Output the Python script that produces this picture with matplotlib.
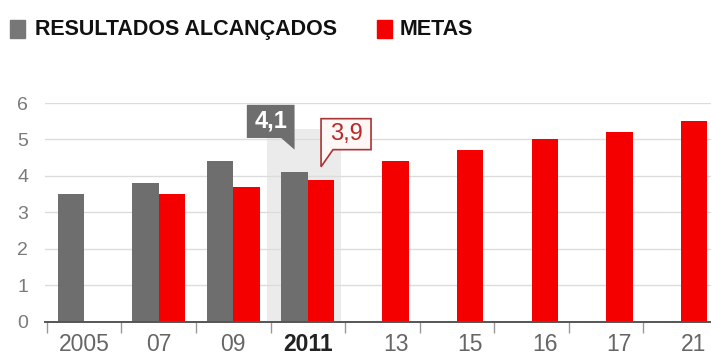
import matplotlib.pyplot as plt
from matplotlib.patches import Polygon, Rectangle

# IDEB series: results achieved vs targets
anos = ['2005', '07', '09', '2011', '13', '15', '16', '17', '21']
resultados = [3.5, 3.8, 4.4, 4.1, None, None, None, None, None]
metas = [None, 3.5, 3.7, 3.9, 4.4, 4.7, 5.0, 5.2, 5.5]
destaque = 3  # 2011

CINZA = '#6e6e6e'
VERMELHO = '#f40000'
W = 0.355

plt.rcParams['font.family'] = ['Liberation Sans', 'DejaVu Sans']

fig = plt.figure(figsize=(7.11, 3.56), dpi=100)
ax = fig.add_axes([45 / 711, 34.3 / 356, 666 / 711, 218.7 / 356])

ax.axvspan(destaque - 0.55, destaque + 0.45, ymin=0, ymax=5.3 / 6,
           color='#ebebeb', zorder=0, lw=0)

for i, (r, m) in enumerate(zip(resultados, metas)):
    if r is not None:
        ax.bar(i - W / 2, r, width=W, color=CINZA, zorder=2)
    if m is not None:
        ax.bar(i + W / 2, m, width=W, color=VERMELHO, zorder=2)

ax.set_xlim(-0.523, 8.405)
ax.set_ylim(0, 6)
ax.set_yticks(range(7))
ax.yaxis.grid(True, color='#dcdcdc', lw=1, zorder=0.5)
ax.set_axisbelow(True)
for s in ['left', 'right', 'top']:
    ax.spines[s].set_visible(False)
ax.spines['bottom'].set_color('#555555')
ax.spines['bottom'].set_linewidth(1.4)
ax.tick_params(axis='y', length=0, pad=12, labelsize=14, labelcolor='#7a7a7a')

# labels sit under the group center, or under the lone target bar
pos = [i if resultados[i] is not None else i + W / 2 for i in range(len(anos))]
ax.set_xticks(pos)
ax.set_xticklabels(anos, fontsize=16.5, color='#666666')
ax.tick_params(axis='x', length=0, pad=8)
ax.get_xticklabels()[destaque].set_fontweight('bold')
ax.get_xticklabels()[destaque].set_color('#222222')
ax.set_xticks([i - 0.5 for i in range(len(anos))], minor=True)
ax.tick_params(axis='x', which='minor', length=8, color='#999999', width=1)

# callouts for the highlighted year
r, m = resultados[destaque], metas[destaque]
xg = destaque - W / 2
tip = r + 0.62
caixa_g = [(xg - 0.64, tip + 0.32), (xg - 0.18, tip + 0.32), (xg, tip),
           (xg, tip + 1.23), (xg - 0.64, tip + 1.23)]
ax.add_patch(Polygon(caixa_g, closed=True, facecolor=CINZA, edgecolor='none',
                     zorder=4, clip_on=False))
ax.text(xg - 0.32, tip + 0.78, f'{r:.1f}'.replace('.', ','), ha='center',
        va='center', color='white', fontsize=17, fontweight='bold', zorder=5)

xr = destaque + W / 2
tip = m + 0.35
caixa_r = [(xr, tip), (xr + 0.16, tip + 0.47), (xr + 0.67, tip + 0.47),
           (xr + 0.67, tip + 1.32), (xr, tip + 1.32)]
ax.add_patch(Polygon(caixa_r, closed=True, facecolor='#fff6f6', edgecolor='#a83434',
                     lw=1.2, zorder=4, clip_on=False))
ax.text(xr + 0.335, tip + 0.9, f'{m:.1f}'.replace('.', ','), ha='center',
        va='center', color='#b52a2a', fontsize=17, fontweight='medium', zorder=5)

# legend across the top
yl = 1 - 29.5 / 356
fig.patches.append(Rectangle((10 / 711, 1 - 38 / 356), 15 / 711, 18 / 356,
                             transform=fig.transFigure, color='#777777'))
fig.text(35 / 711, yl, 'RESULTADOS ALCANÇADOS', fontsize=15.5, fontweight='bold',
         color='#111111', va='center', ha='left')
fig.patches.append(Rectangle((377 / 711, 1 - 38 / 356), 15 / 711, 18 / 356,
                             transform=fig.transFigure, color=VERMELHO))
fig.text(400 / 711, yl, 'METAS', fontsize=15.5, fontweight='bold',
         color='#111111', va='center', ha='left')

fig.savefig('out.png', dpi=100)
